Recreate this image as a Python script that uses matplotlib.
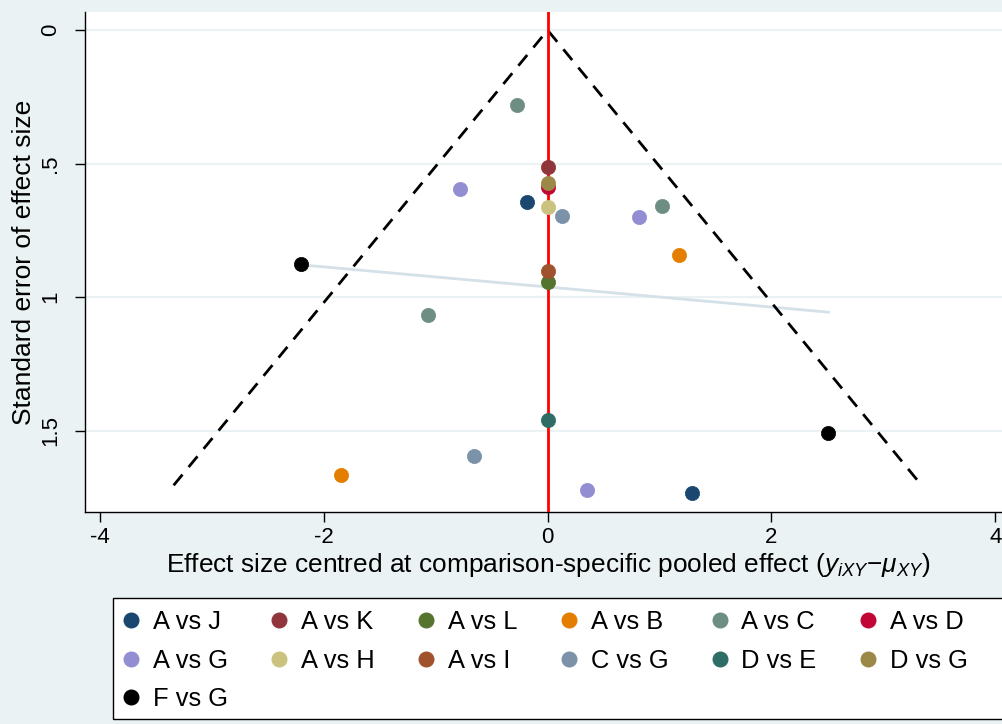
import numpy as np
import matplotlib.pyplot as plt
from matplotlib.lines import Line2D
from matplotlib.patches import Rectangle

plt.rcParams['font.family'] = ['Liberation Sans', 'DejaVu Sans']
plt.rcParams['mathtext.fontset'] = 'custom'
plt.rcParams['mathtext.it'] = 'Liberation Sans:italic'
plt.rcParams['mathtext.rm'] = 'Liberation Sans'

# comparison-adjusted effects (x) and their standard errors (se)
comparisons = ['A vs J', 'A vs K', 'A vs L', 'A vs B', 'A vs C', 'A vs D',
               'A vs G', 'A vs H', 'A vs I', 'C vs G', 'D vs E', 'D vs G',
               'F vs G']
colors = ['#1A476F', '#90353B', '#55752F', '#E37E00', '#6E8E84', '#C10534',
          '#938DD2', '#CAC27E', '#A0522D', '#7B92A8', '#2D6D66', '#9C8847',
          '#000000']
x_vals = {
    'A vs J': [-0.18, 1.29],
    'A vs K': [0.0],
    'A vs L': [0.0],
    'A vs B': [1.17, -1.85],
    'A vs C': [-0.27, 1.02, -1.07],
    'A vs D': [0.0],
    'A vs G': [-0.78, 0.82, 0.35],
    'A vs H': [0.0],
    'A vs I': [0.0],
    'C vs G': [0.125, -0.66],
    'D vs E': [0.0],
    'D vs G': [0.0],
    'F vs G': [-2.20, 2.51],
}
se_vals = {
    'A vs J': [0.643, 1.733],
    'A vs K': [0.511],
    'A vs L': [0.944],
    'A vs B': [0.842, 1.665],
    'A vs C': [0.282, 0.658, 1.068],
    'A vs D': [0.586],
    'A vs G': [0.594, 0.699, 1.722],
    'A vs H': [0.662],
    'A vs I': [0.902],
    'C vs G': [0.695, 1.594],
    'D vs E': [1.459],
    'D vs G': [0.571],
    'F vs G': [0.876, 1.508],
}
se_max = 1.705

bg = '#EAF2F3'
fig = plt.figure(figsize=(10.02, 7.24), dpi=100, facecolor=bg)
ax = fig.add_axes([85/1002, 1-512/724, 1-85/1002+0.01, 500/724])
ax.set_facecolor('white')

# gridlines
for g in [0, 0.5, 1, 1.5]:
    ax.axhline(g, color=bg, lw=1.6, zorder=0)

# fitted line of SE on effect size
all_x = np.concatenate([x_vals[c] for c in comparisons])
all_se = np.concatenate([se_vals[c] for c in comparisons])
b, a = np.polyfit(all_x, all_se, 1)
fx = np.array([all_x.min(), all_x.max()])
ax.plot(fx, a + b*fx, color='#D5E1E8', lw=2, zorder=1)

# 95% funnel
ax.plot([-1.96*se_max, 0, 1.96*se_max], [se_max, 0, se_max], color='black',
        lw=2, ls=(0, (5, 3.5)), zorder=2)
ax.axvline(0, color='red', lw=2, zorder=3)

handles = []
for c, col in zip(comparisons, colors):
    ax.scatter(x_vals[c], se_vals[c], s=105, color=col, edgecolors=col,
               linewidths=0.5, zorder=4)
    handles.append(Line2D([], [], ls='none', marker='o', ms=10.5,
                          color=col, mec=col))

ax.set_xlim(-4.134, 4.15)
ax.set_ylim(1.805, -0.068)
ax.set_xticks([-4, -2, 0, 2, 4])
ax.set_xticklabels(['-4', '-2', '0', '2', '4'])
ax.set_yticks([0, 0.5, 1, 1.5])
ax.set_yticklabels(['0', '.5', '1', '1.5'], rotation=90, va='center')
ax.tick_params(labelsize=16, length=7, width=1, color='black')
ax.tick_params(axis='y', pad=10)
ax.tick_params(axis='x', pad=4)
for s in ['top', 'right']:
    ax.spines[s].set_visible(False)
for s in ['left', 'bottom']:
    ax.spines[s].set_linewidth(1)

ax.set_ylabel('Standard error of effect size', fontsize=19, labelpad=3)
ax.set_xlabel(r'Effect size centred at comparison-specific pooled effect ($y_{iXY}$$-\mu_{XY}$)',
              fontsize=18.9, labelpad=2)

# legend box runs past the right edge
fig.patches.append(Rectangle((113/1002, 1-719/724), 0.95, 121/724,
                             transform=fig.transFigure, facecolor='white',
                             edgecolor='black', lw=1, zorder=1))

# legend filled column by column, so order entries to read across rows
order = [0, 6, 12, 1, 7, 2, 8, 3, 9, 4, 10, 5, 11]
leg = fig.legend([handles[i] for i in order], [comparisons[i] for i in order],
                 ncol=6, loc='upper left',
                 bbox_to_anchor=(113/1002, 1-600/724, 865/1002, 0.0),
                 mode='expand', frameon=False, fontsize=18.4,
                 handletextpad=0.55, labelspacing=0.57, borderpad=0.4,
                 handlelength=0.6, borderaxespad=0)
leg.set_zorder(2)

fig.savefig('out.png', dpi=100, facecolor=bg)
